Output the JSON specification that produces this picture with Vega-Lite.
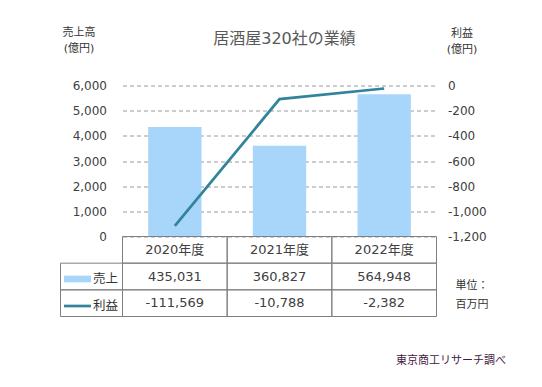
{
  "$schema": "https://vega.github.io/schema/vega-lite/v6.json",
  "width": 376,
  "height": 231,
  "autosize": "none",
  "padding": {"left": 60.5, "top": 85.5, "right": 105.5, "bottom": 70.5},
  "background": "white",
  "config": {
    "view": {"stroke": null},
    "font": "DejaVu Sans, Noto Sans CJK JP",
    "locale": {"number": {"decimal": ".", "thousands": ",", "grouping": [3], "currency": ["", ""], "minus": "-"}}
  },
  "title": {
    "text": "居酒屋320社の業績",
    "fontSize": 16,
    "fontWeight": "normal",
    "color": "#595959",
    "frame": "group",
    "anchor": "middle",
    "dx": 36,
    "offset": 0,
    "dy": 20
  },
  "data": {
    "values": [
      {"year": "2020年度", "series": "売上", "value": 435031},
      {"year": "2021年度", "series": "売上", "value": 360827},
      {"year": "2022年度", "series": "売上", "value": 564948},
      {"year": "2020年度", "series": "利益", "value": -111569},
      {"year": "2021年度", "series": "利益", "value": -10788},
      {"year": "2022年度", "series": "利益", "value": -2382}
    ]
  },
  "layer": [
    {
      "transform": [{"filter": "datum.series === '売上'"}],
      "mark": {"type": "bar"},
      "encoding": {
        "x": {"field": "year", "type": "nominal", "sort": null,
          "scale": {"domain": ["2020年度", "2021年度", "2022年度"], "range": [62, 376], "paddingInner": 0.49, "paddingOuter": 0.245},
          "axis": null},
        "y": {"field": "value", "type": "quantitative",
          "scale": {"domain": [0, 600000], "range": [151, 0], "nice": false, "zero": true},
          "axis": {
            "orient": "left", "offset": -62,
            "values": [0, 100000, 200000, 300000, 400000, 500000, 600000],
            "labelExpr": "format(datum.value / 100, ',')",
            "domain": false, "ticks": false, "labelPadding": 16,
            "labelFontSize": 12, "labelColor": "#404040",
            "grid": true, "gridDash": [4, 3], "gridColor": "#9a9a9a", "gridWidth": 1,
            "title": ["売上高", "(億円)"], "titleAngle": 0, "titleFontSize": 11,
            "titleFontWeight": "normal", "titleColor": "#333333",
            "titleAlign": "center", "titleBaseline": "top", "titleLineHeight": 16,
            "titleX": -44, "titleY": -59
          }},
        "color": {"field": "series", "type": "nominal",
          "scale": {"domain": ["売上", "利益"], "range": ["#a8d6fb", "#31849b"]},
          "legend": {
            "orient": "none", "legendX": 3.5, "legendY": 180, "title": null,
            "padding": 0, "rowPadding": 7, "symbolSize": 729, "labelOffset": 2,
            "labelFontSize": 12.5, "labelColor": "#333333",
            "symbolStrokeWidth": 0,
            "encode": {"symbols": {"update": {
              "shape": {"signal": "datum.value === '売上' ? 'M-1,-0.25H1V0.25H-1Z' : 'M-1,-0.1H1V0.1H-1Z'"},
              "fill": {"scale": "color", "field": "value"},
              "opacity": {"value": 1},
              "strokeWidth": {"value": 0}
            }}}
          }}
      }
    },
    {
      "transform": [{"filter": "datum.series === '利益'"}],
      "mark": {"type": "line", "strokeWidth": 2.75},
      "encoding": {
        "x": {"field": "year", "type": "nominal", "sort": null,
          "scale": {"domain": ["2020年度", "2021年度", "2022年度"], "range": [62, 376], "paddingInner": 0.49, "paddingOuter": 0.245},
          "axis": null},
        "y": {"field": "value", "type": "quantitative",
          "scale": {"domain": [-120000, 0], "range": [151, 0], "nice": false, "zero": false},
          "axis": {
            "orient": "right",
            "values": [-120000, -100000, -80000, -60000, -40000, -20000, 0],
            "labelExpr": "format(datum.value / 100, ',')",
            "domain": false, "ticks": false, "labelPadding": 11, "grid": false,
            "labelFontSize": 12, "labelColor": "#404040",
            "title": ["利益", "(億円)"], "titleAngle": 0, "titleFontSize": 11,
            "titleFontWeight": "normal", "titleColor": "#333333",
            "titleAlign": "center", "titleBaseline": "top", "titleLineHeight": 16,
            "titleX": 25, "titleY": -58
          }},
        "color": {"field": "series", "type": "nominal"}
      }
    },
    {
      "transform": [{"filter": "datum.series === '売上'"}],
      "mark": {"type": "rect", "fill": "transparent", "stroke": "#7f7f7f", "strokeWidth": 1},
      "encoding": {
        "x": {"field": "year", "type": "nominal", "sort": null,
          "scale": {"domain": ["2020年度", "2021年度", "2022年度"], "range": [62, 376], "paddingInner": 0, "paddingOuter": 0},
          "axis": null},
        "y": {"datum": "年度", "type": "nominal",
          "scale": {"domain": ["年度", "売上", "利益"], "range": [151, 231], "paddingInner": 0, "paddingOuter": 0},
          "axis": null}
      }
    },
    {
      "mark": {"type": "rect", "fill": "transparent", "stroke": "#7f7f7f", "strokeWidth": 1},
      "encoding": {
        "x": {"field": "year", "type": "nominal", "sort": null,
          "scale": {"domain": ["2020年度", "2021年度", "2022年度"], "range": [62, 376], "paddingInner": 0, "paddingOuter": 0},
          "axis": {
            "orient": "bottom", "labels": false, "ticks": false, "domain": false, "grid": false,
            "title": "東京商工リサーチ調べ", "titleFontSize": 11, "titleFontWeight": "normal",
            "titleColor": "#3f2040", "titleAlign": "center", "titleBaseline": "middle",
            "titleX": 390, "titleY": 43.5
          }},
        "y": {"field": "series", "type": "nominal",
          "scale": {"domain": ["年度", "売上", "利益"], "range": [151, 231], "paddingInner": 0, "paddingOuter": 0},
          "axis": {
            "orient": "right", "labels": false, "ticks": false, "domain": false, "grid": false,
            "title": ["単位：", "百万円"], "titleAngle": 0, "titleFontSize": 11,
            "titleFontWeight": "normal", "titleColor": "#333333",
            "titleAlign": "left", "titleBaseline": "top", "titleLineHeight": 19,
            "titleX": 18.5, "titleY": 193.5
          }}
      }
    },
    {
      "transform": [{"filter": "datum.year === '2020年度'"}],
      "mark": {"type": "rect", "fill": "transparent", "stroke": "#7f7f7f", "strokeWidth": 1},
      "encoding": {
        "x": {"datum": "凡例", "type": "nominal",
          "scale": {"domain": ["凡例"], "range": [0, 62], "paddingInner": 0, "paddingOuter": 0},
          "axis": null},
        "y": {"field": "series", "type": "nominal",
          "scale": {"domain": ["年度", "売上", "利益"], "range": [151, 231], "paddingInner": 0, "paddingOuter": 0},
          "axis": null}
      }
    },
    {
      "transform": [{"filter": "datum.series === '売上'"}],
      "mark": {"type": "text", "fontSize": 13, "color": "#404040"},
      "encoding": {
        "x": {"field": "year", "type": "nominal", "sort": null,
          "scale": {"domain": ["2020年度", "2021年度", "2022年度"], "range": [62, 376], "paddingInner": 0, "paddingOuter": 0},
          "axis": null},
        "y": {"datum": "年度", "type": "nominal",
          "scale": {"domain": ["年度", "売上", "利益"], "range": [151, 231], "paddingInner": 0, "paddingOuter": 0},
          "axis": null},
        "text": {"field": "year", "type": "nominal"}
      }
    },
    {
      "mark": {"type": "text", "fontSize": 13, "color": "#404040"},
      "encoding": {
        "x": {"field": "year", "type": "nominal", "sort": null,
          "scale": {"domain": ["2020年度", "2021年度", "2022年度"], "range": [62, 376], "paddingInner": 0, "paddingOuter": 0},
          "axis": null},
        "y": {"field": "series", "type": "nominal",
          "scale": {"domain": ["年度", "売上", "利益"], "range": [151, 231], "paddingInner": 0, "paddingOuter": 0},
          "axis": null},
        "text": {"field": "value", "type": "quantitative", "format": ","}
      }
    }
  ],
  "resolve": {"scale": {"x": "independent", "y": "independent"}}
}
